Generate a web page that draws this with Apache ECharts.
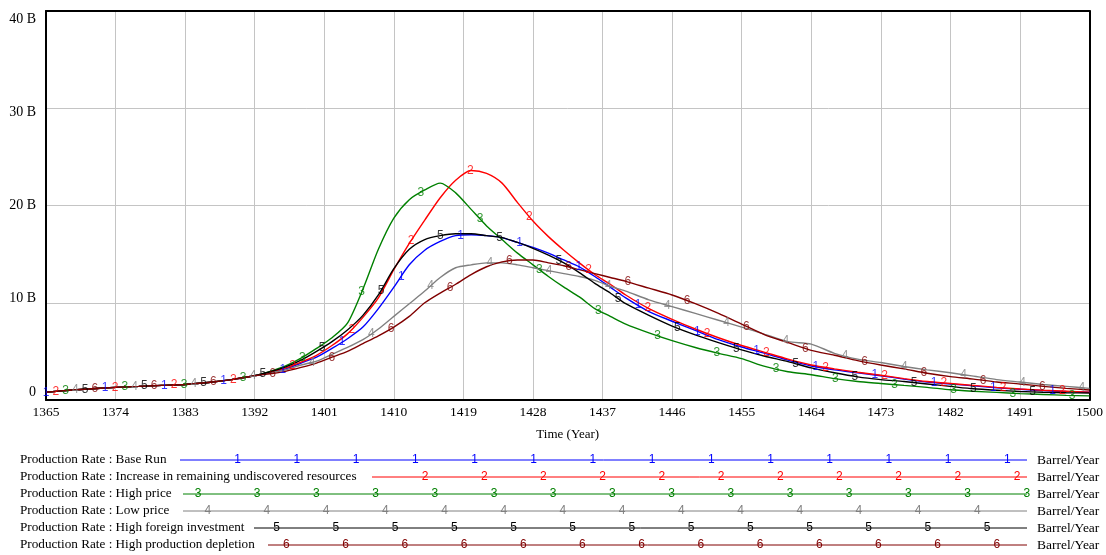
<!DOCTYPE html>
<html><head><meta charset="utf-8">
<script src="https://cdn.jsdelivr.net/npm/echarts@6/dist/echarts.min.js"></script>
<style>html,body{margin:0;padding:0;background:#fff}#c{width:1106px;height:555px}</style>
</head><body><div id="c"></div>
<script>
// ---------------- DATA ----------------
const startYear = 1365;
const endYear = 1500;
const xTickStep = 9;
const yTickValues = [0, 10, 20, 30, 40];          // billions
const yUnitSuffix = ' B';
const xAxisTitle = 'Time (Year)';
const unitLabel = 'Barrel/Year';
const seriesPrefix = 'Production Rate : ';
const seriesNames = ['Base Run', 'Increase in remaining undiscovered resources', 'High price', 'Low price', 'High foreign investment', 'High production depletion'];
const seriesColors = ['#0000ff', '#ff0000', '#008000', '#808080', '#000000', '#800000'];

const years = [1365,1368,1371,1374,1377,1380,1383,1386,1389,1392,1394,1396,1398,1400,1402,1404,1406,1408,1410,1412,1414,1416,1418,1420,1422,1424,1426,1428,1430,1432,1434,1436,1438,1440,1443,1446,1449,1452,1455,1458,1461,1464,1467,1470,1473,1476,1479,1482,1485,1488,1491,1494,1497,1500];

// values in billion barrel / year
const baseRun = [0.8,1.0,1.15,1.3,1.4,1.5,1.6,1.8,2.1,2.5,2.8,3.2,3.8,4.4,5.3,6.3,7.5,9.4,11.6,13.9,15.4,16.3,16.9,17.0,16.9,16.7,16.2,15.7,15.1,14.4,13.7,12.7,11.6,10.5,9.1,8.1,7.15,6.2,5.45,4.8,4.1,3.5,3.1,2.8,2.5,2.15,1.85,1.65,1.45,1.25,1.1,0.97,0.87,0.79];
const increaseResources = [0.8,1.0,1.15,1.3,1.4,1.5,1.6,1.8,2.1,2.5,2.85,3.3,3.9,4.6,5.6,6.8,8.5,10.5,13.4,16.1,18.5,20.8,22.6,23.6,23.3,22.3,20.3,18.4,16.8,15.4,14.1,12.9,11.9,10.8,9.4,8.3,7.3,6.4,5.6,4.9,4.2,3.6,3.2,2.85,2.55,2.2,1.9,1.7,1.5,1.3,1.13,1.0,0.9,0.8];
const highPrice = [0.8,1.0,1.15,1.3,1.4,1.5,1.6,1.8,2.1,2.5,2.95,3.5,4.3,5.3,6.4,7.9,11.4,15.5,18.7,20.6,21.6,22.3,21.3,19.6,17.9,16.5,15.1,13.9,12.7,11.6,10.6,9.4,8.6,7.8,6.9,6.1,5.4,4.8,4.25,3.45,2.9,2.6,2.2,1.9,1.7,1.5,1.3,1.05,0.9,0.78,0.66,0.57,0.48,0.42];
const lowPrice = [0.8,1.0,1.15,1.3,1.4,1.5,1.6,1.8,2.1,2.5,2.8,3.1,3.6,4.0,4.7,5.4,6.2,7.3,8.6,9.9,11.2,12.6,13.6,13.9,14.1,14.1,13.9,13.6,13.3,13.0,12.7,12.3,11.7,11.2,10.3,9.6,8.9,8.2,7.5,6.75,6.0,5.75,4.8,4.2,3.85,3.45,3.1,2.8,2.45,2.1,1.85,1.6,1.4,1.2];
const highForeignInvestment = [0.8,1.0,1.15,1.3,1.4,1.5,1.6,1.8,2.1,2.5,2.9,3.4,4.1,5.0,6.0,7.2,8.7,10.8,13.5,15.5,16.5,16.9,17.1,17.1,16.9,16.7,16.2,15.6,14.9,14.1,13.1,12.0,11.0,9.9,8.7,7.6,6.7,5.9,5.15,4.5,3.95,3.3,2.8,2.38,2.1,1.9,1.65,1.4,1.15,1.0,0.88,0.8,0.75,0.72];
const highProductionDepletion = [0.8,1.0,1.15,1.3,1.4,1.5,1.6,1.8,2.1,2.5,2.7,2.95,3.35,3.8,4.4,5.0,5.8,6.6,7.5,8.6,10.0,11.0,11.9,12.9,13.7,14.2,14.4,14.4,14.1,13.8,13.4,13.0,12.6,12.2,11.5,10.8,9.9,8.9,7.8,6.7,5.9,5.1,4.6,4.05,3.6,3.2,2.75,2.4,2.15,1.85,1.65,1.4,1.2,1.03];

const allValues = [baseRun, increaseResources, highPrice, lowPrice, highForeignInvestment, highProductionDepletion];

// ---------------- LAYOUT (styles only) ----------------
const FONT_SERIF = '"Liberation Serif", "Times New Roman", serif';
const FONT_SANS = '"Liberation Sans", Arial, sans-serif';
const gridBox = { left: 46, right: 15, top: 11, bottom: 155 };
const markerStepYears = 7.66;      // spacing between numbered markers along a line
const markerShiftYears = 1.266;    // shift between series' markers

function interp(xs, ys, t) {
  if (t <= xs[0]) return ys[0];
  for (let i = 1; i < xs.length; i++) {
    if (t <= xs[i]) {
      const f = (t - xs[i - 1]) / (xs[i] - xs[i - 1]);
      return ys[i - 1] + f * (ys[i] - ys[i - 1]);
    }
  }
  return ys[ys.length - 1];
}

const span = endYear - startYear;
const series = [];
allValues.forEach((vals, i) => {
  series.push({
    type: 'line',
    name: seriesNames[i],
    data: years.map((y, j) => [y - startYear, vals[j]]),
    showSymbol: false,
    smooth: 0.25,
    lineStyle: { color: seriesColors[i], width: 1.4 },
    z: 2 + i,
    silent: true
  });
  const marks = [];
  for (let k = 0; ; k++) {
    const t = markerShiftYears * i + markerStepYears * k;
    if (t > span + 0.05) break;
    marks.push([t, interp(years.map(y => y - startYear), vals, t)]);
  }
  series.push({
    type: 'scatter',
    data: marks,
    symbol: 'circle',
    symbolSize: 1,
    itemStyle: { color: 'transparent' },
    label: {
      show: true, position: 'inside', formatter: String(i + 1),
      color: seriesColors[i], fontSize: 12, fontFamily: FONT_SANS
    },
    z: 10,
    silent: true
  });
});

// ---------------- LEGEND (graphic) ----------------
const legendRowY = [460, 477, 494, 511, 528, 545];
const legendLineStart = [180, 372, 183, 183, 254, 268];
const legendLineEnd = 1027;
const legendMarkerBase = 237.7, legendMarkerStep = 59.2, legendMarkerShift = 9.75;
const graphics = [];
seriesNames.forEach((nm, i) => {
  const yy = legendRowY[i];
  graphics.push({
    type: 'text', x: 20, y: yy,
    style: { text: seriesPrefix + nm, font: '13.2px ' + FONT_SERIF, fill: '#000', verticalAlign: 'middle' }
  });
  graphics.push({
    type: 'line',
    shape: { x1: legendLineStart[i], y1: yy, x2: legendLineEnd, y2: yy },
    style: { stroke: seriesColors[i], lineWidth: 1 }
  });
  for (let k = -3; k < 20; k++) {
    const x = legendMarkerBase + legendMarkerShift * i + legendMarkerStep * k;
    if (x < legendLineStart[i] + 8 || x > legendLineEnd + 1.5) continue;
    graphics.push({
      type: 'text', x: x, y: yy,
      style: { text: String(i + 1), font: '12px ' + FONT_SANS, fill: seriesColors[i], align: 'center', verticalAlign: 'middle' }
    });
  }
  graphics.push({
    type: 'text', x: 1037, y: yy,
    style: { text: unitLabel, font: '13.5px ' + FONT_SERIF, fill: '#000', verticalAlign: 'middle' }
  });
});

// y label vertical nudges (labels sit inside the range)
const yRich = {};
yTickValues.forEach((v, idx) => {
  const frac = (v - yTickValues[0]) / (yTickValues[yTickValues.length - 1] - yTickValues[0]);
  const shift = Math.round(16 * (frac - 0.5) * 2) / 2; // + => move down
  yRich['y' + idx] = {
    fontSize: 14, fontFamily: FONT_SERIF, color: '#000',
    padding: shift > 0 ? [shift * 2, 0, 0, 0] : [0, 0, -shift * 2, 0]
  };
});

const borderAxisLine = { show: true, onZero: false, lineStyle: { color: '#000', width: 2 } };
const option = {
  animation: false,
  backgroundColor: '#fff',
  grid: gridBox,
  xAxis: [{
    type: 'value', position: 'bottom', min: 0, max: span, interval: xTickStep,
    name: xAxisTitle, nameLocation: 'middle', nameGap: 28,
    nameTextStyle: { fontSize: 13, fontFamily: FONT_SERIF, color: '#000' },
    axisLine: borderAxisLine,
    axisTick: { show: false },
    axisLabel: { formatter: v => String(v + startYear), fontSize: 13.5, fontFamily: FONT_SERIF, color: '#000', margin: 5 },
    splitLine: { show: true, lineStyle: { color: '#c4c4c4', width: 1 } }
  }, {
    type: 'value', position: 'top', min: 0, max: span, interval: xTickStep,
    axisLine: borderAxisLine, axisTick: { show: false }, axisLabel: { show: false }, splitLine: { show: false }
  }],
  yAxis: [{
    type: 'value', position: 'left', min: yTickValues[0], max: yTickValues[yTickValues.length - 1], interval: yTickValues[1] - yTickValues[0],
    axisLine: borderAxisLine,
    axisTick: { show: false },
    axisLabel: {
      margin: 10,
      formatter: v => {
        const idx = yTickValues.indexOf(v);
        const txt = v === 0 ? '0' : v + yUnitSuffix;
        return '{y' + idx + '|' + txt + '}';
      },
      rich: yRich
    },
    splitLine: { show: true, lineStyle: { color: '#c4c4c4', width: 1 } }
  }, {
    type: 'value', position: 'right', min: yTickValues[0], max: yTickValues[yTickValues.length - 1], interval: yTickValues[1] - yTickValues[0],
    axisLine: borderAxisLine, axisTick: { show: false }, axisLabel: { show: false }, splitLine: { show: false }
  }],
  series: series,
  graphic: graphics
};
const chart = echarts.init(document.getElementById('c'), null, { renderer: 'canvas' });
chart.setOption(option);
</script>
</body></html>
